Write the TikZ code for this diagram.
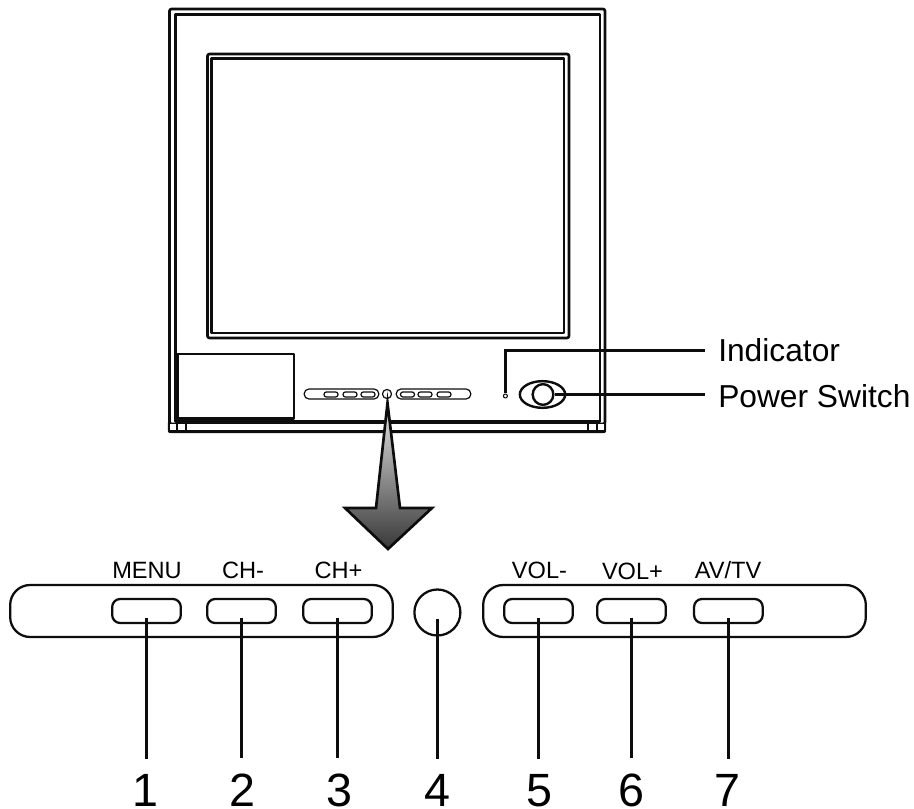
\documentclass[tikz,border=0pt]{standalone}
\usepackage{fontspec}
\setmainfont{Liberation Sans}
\usetikzlibrary{shapes.geometric,calc}
\definecolor{lineblack}{gray}{0.05}
\tikzset{
  x=0.75pt,y=-0.75pt,
  every path/.style={line join=round},
  frame/.style={draw=lineblack,line width=2pt,fill=white},
  thinframe/.style={draw=lineblack,line width=1.6pt,fill=white},
  connector/.style={draw=lineblack,line width=2.1pt},
  bigbtn/.style={draw=lineblack,line width=1.7pt,fill=white,rounded corners=6pt,minimum height=18pt,inner sep=0pt,outer sep=0pt},
  bigpanel/.style={draw=lineblack,line width=1.7pt,fill=white,rounded corners=15pt,minimum height=39pt,inner sep=0pt,outer sep=0pt},
  minipanel/.style={draw=lineblack,line width=0.9pt,fill=white,rounded corners=3.6pt,minimum height=7.5pt,inner sep=0pt,outer sep=0pt},
  minibtn/.style={draw=lineblack,line width=0.9pt,fill=white,rounded corners=1.8pt,minimum height=3.8pt,minimum width=10.5pt,inner sep=0pt,outer sep=0pt},
  btnlabel/.style={font=\fontsize{17.7pt}{20pt}\selectfont,inner sep=0pt,text=black,anchor=base},
  numlabel/.style={font=\fontsize{35pt}{40pt}\selectfont,inner sep=0pt,text=black,anchor=base},
  sidelabel/.style={font=\fontsize{23.8pt}{28pt}\selectfont,inner sep=0pt,text=black,anchor=base west},
}
\begin{document}
\begin{tikzpicture}
\useasboundingbox (0,0) rectangle (914,809);
% feet and cabinet
\draw[thinframe,rounded corners=1.5pt] (169,421) rectangle (605,432);
\draw[frame,rounded corners=1.5pt] (169.5,9) rectangle (605,424);
\draw[frame] (175.5,14.5) rectangle (600,421.5);
\draw[thinframe] (169,423.5) -- (169,431.5) -- (605,431.5) -- (605,423.5);
\foreach \fx in {177,186,588,597}{\draw[draw=lineblack,line width=1.3pt] (\fx,422) -- (\fx,432);}
% screen
\draw[frame,rounded corners=1.5pt] (207.5,54) rectangle (569,338);
\draw[frame] (211.5,58.5) rectangle (564,333);
% lower-left plate
\draw[frame] (177.5,354) rectangle (294,418.5);
% mini control strip
\node[minipanel,minimum width=56pt] (mpl) at (341.5,394) {};
\node[minipanel,minimum width=56pt] (mpr) at (433.5,394) {};
\foreach \mname/\mx in {ma/331,mb/350,mc/368,md/407.5,me/425,mf/444}{\node[minibtn] (\mname) at (\mx,394.5) {};}
\node[circle,draw=lineblack,line width=0.9pt,fill=white,minimum size=6.8pt,inner sep=0pt] (mc0) at (387,394) {};
% indicator and switch
\node[circle,draw=lineblack,line width=0.8pt,fill=white,minimum size=3pt,inner sep=0pt] (led) at (505.4,396) {};
\node[ellipse,draw=lineblack,line width=1.8pt,fill=white,minimum width=34pt,minimum height=20pt,inner sep=0pt] (eye) at (542.5,394.5) {};
\node[circle,draw=lineblack,line width=1.8pt,fill=none,minimum size=15.5pt,inner sep=0pt] (pwr) at (543,394.5) {};
\node[sidelabel] (ind) at (718,361) {Indicator};
\node[sidelabel] (psw) at (718,407) {Power Switch};
\coordinate (indcorner) at (505.4,350.4);
\coordinate (indend) at (705,350.4);
\coordinate (pswend) at (705,394.5);
\draw[connector,line join=miter] (led.north) -- (indcorner) -- (indend);
\draw[connector] (pwr.east) -- (pswend);
% big arrow
\shade[top color=white!90!black,bottom color=black!78,draw=lineblack,line width=2pt,miter limit=10,line join=miter]
  (387.5,403) -- (400,508) -- (432,508) -- (388,549) -- (345,508) -- (376,508) -- cycle;
% front panel
\node[bigpanel,minimum width=287pt] (panl) at (201.5,611) {};
\node[bigpanel,minimum width=287pt] (panr) at (674.5,611) {};
\foreach \bname/\bx in {b1/146.5,b2/241.5,b3/337.5,b5/538.5,b6/631.5,b7/728.4}{
  \node[bigbtn,minimum width=51.5pt] (\bname) at (\bx,611) {};
}
\node[circle,draw=lineblack,line width=1.7pt,fill=white,minimum size=34.5pt,inner sep=0pt] (b4) at (437.4,612.5) {};
\node[btnlabel] (lb1) at (147,578) {MENU};
\node[btnlabel] (lb2) at (243,578) {CH-};
\node[btnlabel] (lb3) at (338.5,578) {CH+};
\node[btnlabel] (lb5) at (539.5,578) {VOL-};
\node[btnlabel] (lb6) at (632.5,579.5) {VOL+};
\node[btnlabel] (lb7) at (728,578) {AV/TV};
\foreach \n/\nx in {1/145,2/242,3/339,4/437,5/539,6/631,7/727}{
  \node[numlabel] (n\n) at (\nx,806) {\n};
  \draw[connector,shorten <=5pt,shorten >=11pt] (b\n.center) -- (b\n.center |- n\n.north);
}
\end{tikzpicture}
\end{document}
